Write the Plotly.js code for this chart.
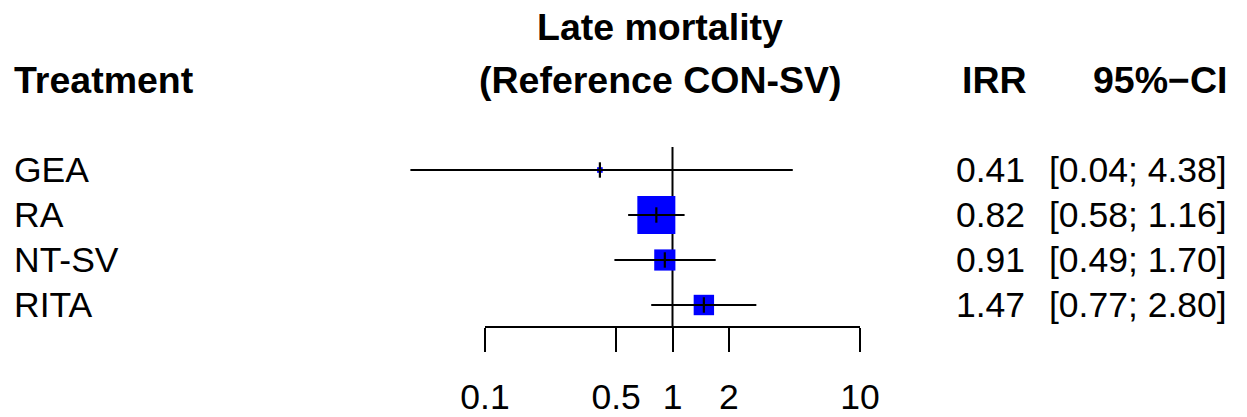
<!DOCTYPE html>
<html>
<head>
<meta charset="utf-8">
<script src="https://cdn.plot.ly/plotly-3.0.1.min.js"></script>
<style>html,body{margin:0;padding:0;background:#fff;}#chart{width:1247px;height:417px;}</style>
</head>
<body>
<div id="chart"></div>
<script>
// ---- data ----
const treatments = ['GEA', 'RA', 'NT-SV', 'RITA'];
const irr = [0.41, 0.82, 0.91, 1.47];
const ciLower = [0.04, 0.58, 0.49, 0.77];
const ciUpper = [4.38, 1.16, 1.70, 2.80];
const tickVals = [0.1, 0.5, 1, 2, 10];
const tickLabels = ['0.1', '0.5', '1', '2', '10'];
const titleLine1 = 'Late mortality';
const titleLine2 = '(Reference CON-SV)';
const colHeaders = ['Treatment', 'IRR', '95%\u2212CI'];

// ---- derived ----
const rows = treatments.map((_, i) => i);
// inverse-variance weights from the CI, square side ~ sqrt(weight)
const weights = irr.map((_, i) => {
  const se = (Math.log(ciUpper[i]) - Math.log(ciLower[i])) / 3.92;
  return 1 / (se * se);
});
const boxSizes = weights.map(w => 6.72 * Math.sqrt(w));

const FONT = 'Liberation Sans, Arial, Helvetica, sans-serif';
const W = 1247, H = 417;
const pxPerDecade = 187.5;
const x0px = 485; // pixel of 0.1
const xr0 = -1 - x0px / pxPerDecade;
const xr1 = xr0 + W / pxPerDecade;
const rowTop = 170, rowStep = 45;
const yA = -rowTop / rowStep;
const yB = yA + H / rowStep;
const axisPx = 327;
const pyToRow = p => (p - rowTop) / rowStep;
const REG = 35.5, BOLD = 37.5;

const traces = [
  {
    type: 'scatter', mode: 'markers', xaxis: 'x', yaxis: 'y',
    x: irr, y: rows,
    marker: {symbol: 'square', color: '#0000FF', opacity: 1, size: boxSizes, line: {width: 0}},
    hoverinfo: 'skip', showlegend: false
  },
  {
    type: 'scatter', mode: 'markers', xaxis: 'x', yaxis: 'y',
    x: irr, y: rows,
    marker: {symbol: 'line-ns', size: 11, color: 'black', opacity: 1, line: {width: 2.2, color: 'black'}},
    error_x: {
      type: 'data', symmetric: false,
      array: irr.map((v, i) => ciUpper[i] - v),
      arrayminus: irr.map((v, i) => v - ciLower[i]),
      width: 0, thickness: 2, color: 'black'
    },
    hoverinfo: 'skip', showlegend: false
  },
  {
    type: 'scatter', mode: 'none', xaxis: 'x2', yaxis: 'y',
    x: tickVals, y: tickVals.map(() => null),
    hoverinfo: 'skip', showlegend: false
  }
];

const annotations = [];
const ann = (text, x, y, xanchor, bold, yref) => annotations.push({
  text: bold ? '<b>' + text + '</b>' : text,
  x: x, y: y, xref: 'paper', yref: yref || 'y',
  xanchor: xanchor, yanchor: 'middle', showarrow: false,
  font: {family: FONT, size: bold ? BOLD : REG, color: 'black'}
});
treatments.forEach((t, i) => {
  ann(t, 12 / W, i, 'left', false);
  ann(irr[i].toFixed(2), 1027 / W, i, 'right', false);
  ann('[' + ciLower[i].toFixed(2) + '; ' + ciUpper[i].toFixed(2) + ']', 1229 / W, i, 'right', false);
});
ann(titleLine1, 660 / W, pyToRow(27), 'center', true);
ann(titleLine2, 660 / W, pyToRow(80), 'center', true);
ann(colHeaders[0], 12 / W, pyToRow(80), 'left', true);
ann(colHeaders[1], 1029 / W, pyToRow(80), 'right', true);
ann(colHeaders[2], 1229 / W, pyToRow(80), 'right', true);

const layout = {
  width: W, height: H,
  margin: {l: 0, r: 0, t: 0, b: 0, pad: 0},
  paper_bgcolor: 'white', plot_bgcolor: 'rgba(0,0,0,0)',
  showlegend: false,
  font: {family: FONT, size: REG, color: 'black'},
  xaxis: {type: 'log', range: [xr0, xr1], visible: false, fixedrange: true},
  xaxis2: {
    type: 'log', anchor: 'free',
    domain: [x0px / W, (x0px + 2 * pxPerDecade) / W],
    position: 1 - axisPx / H,
    range: [-1, 1],
    tickmode: 'array', tickvals: tickVals, ticktext: tickLabels,
    ticks: 'outside', ticklen: 24, tickwidth: 2, tickcolor: 'black',
    ticklabelstandoff: 14,
    showline: true, linewidth: 2, linecolor: 'black',
    showgrid: false, zeroline: false,
    tickfont: {family: FONT, size: REG, color: 'black'},
    fixedrange: true
  },
  yaxis: {range: [yB, yA], visible: false, fixedrange: true},
  shapes: [{
    type: 'line', xref: 'x', yref: 'y', layer: 'below',
    x0: 1, x1: 1, y0: pyToRow(147), y1: pyToRow(axisPx),
    line: {color: 'black', width: 2}
  }],
  annotations: annotations
};

Plotly.newPlot('chart', traces, layout, {staticPlot: true, displayModeBar: false});
</script>
</body>
</html>
